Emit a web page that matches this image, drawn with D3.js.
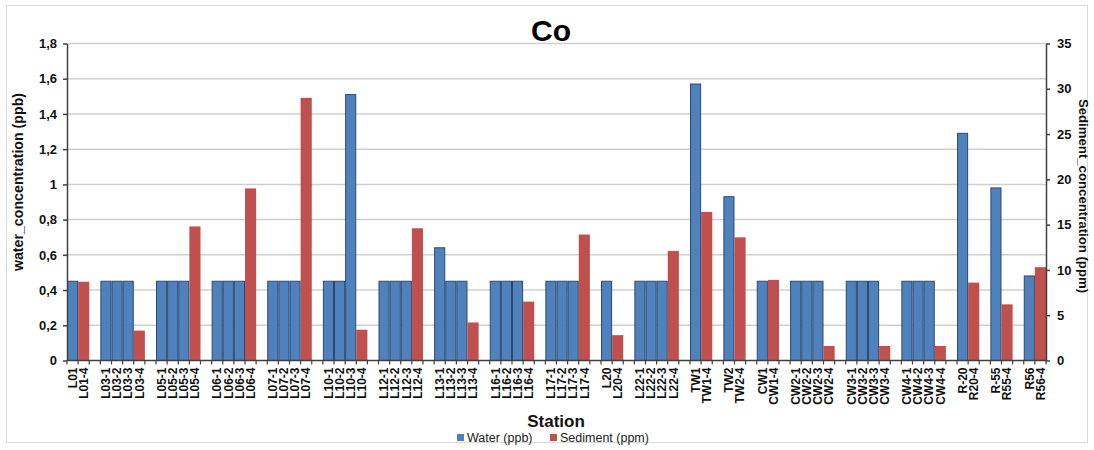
<!DOCTYPE html>
<html>
<head>
<meta charset="utf-8">
<script src="https://cdn.jsdelivr.net/npm/d3@7"></script>
<style>
  html, body { margin: 0; padding: 0; background: #fff; }
  svg { display: block; font-family: "Liberation Sans", Arial, sans-serif; }
</style>
</head>
<body>
<svg id="chart" width="1094" height="450"></svg>
<script>
// Stations along the x axis; "" marks an empty spacer slot between station groups
const stations = [
  "L01", "L01-4", "",
  "L03-1", "L03-2", "L03-3", "L03-4", "",
  "L05-1", "L05-2", "L05-3", "L05-4", "",
  "L06-1", "L06-2", "L06-3", "L06-4", "",
  "L07-1", "L07-2", "L07-3", "L07-4", "",
  "L10-1", "L10-2", "L10-3", "L10-4", "",
  "L12-1", "L12-2", "L12-3", "L12-4", "",
  "L13-1", "L13-2", "L13-3", "L13-4", "",
  "L16-1", "L16-2", "L16-3", "L16-4", "",
  "L17-1", "L17-2", "L17-3", "L17-4", "",
  "L20", "L20-4", "",
  "L22-1", "L22-2", "L22-3", "L22-4", "",
  "TW1", "TW1-4", "",
  "TW2", "TW2-4", "",
  "CW1", "CW1-4", "",
  "CW2-1", "CW2-2", "CW2-3", "CW2-4", "",
  "CW3-1", "CW3-2", "CW3-3", "CW3-4", "",
  "CW4-1", "CW4-2", "CW4-3", "CW4-4", "",
  "R-20", "R20-4", "",
  "R-55", "R55-4", "",
  "R56", "R56-4"
];

// Water concentration (ppb), one entry per slot in `stations`
const water = [
  0.45, null, null,
  0.45, 0.45, 0.45, null, null,
  0.45, 0.45, 0.45, null, null,
  0.45, 0.45, 0.45, null, null,
  0.45, 0.45, 0.45, null, null,
  0.45, 0.45, 1.51, null, null,
  0.45, 0.45, 0.45, null, null,
  0.64, 0.45, 0.45, null, null,
  0.45, 0.45, 0.45, null, null,
  0.45, 0.45, 0.45, null, null,
  0.45, null, null,
  0.45, 0.45, 0.45, null, null,
  1.57, null, null,
  0.93, null, null,
  0.45, null, null,
  0.45, 0.45, 0.45, null, null,
  0.45, 0.45, 0.45, null, null,
  0.45, 0.45, 0.45, null, null,
  1.29, null, null,
  0.98, null, null,
  0.48, null
];

// Sediment concentration (ppm), one entry per slot in `stations`
const sediment = [
  null, 8.7, null,
  null, null, null, 3.3, null,
  null, null, null, 14.8, null,
  null, null, null, 19.0, null,
  null, null, null, 29.0, null,
  null, null, null, 3.4, null,
  null, null, null, 14.6, null,
  null, null, null, 4.2, null,
  null, null, null, 6.5, null,
  null, null, null, 13.9, null,
  null, 2.8, null,
  null, null, null, 12.1, null,
  null, 16.4, null,
  null, 13.6, null,
  null, 8.9, null,
  null, null, null, 1.6, null,
  null, null, null, 1.6, null,
  null, null, null, 1.6, null,
  null, 8.6, null,
  null, 6.2, null,
  null, 10.3
];

const waterTicks = [0, 0.2, 0.4, 0.6, 0.8, 1, 1.2, 1.4, 1.6, 1.8];
const sedimentTicks = [0, 5, 10, 15, 20, 25, 30, 35];

const seriesNames = ["Water (ppb)", "Sediment (ppm)"];
const colors = { water: "#4f81bd", sediment: "#c0504d" };

const svg = d3.select("#chart");
const W = 1094, H = 450;
const margin = { left: 67, right: 48, top: 43.5, bottom: 89.5 };
const plotW = W - margin.left - margin.right;
const plotH = H - margin.top - margin.bottom;

// Outer frame
svg.append("rect")
  .attr("x", 6.5).attr("y", 5.5)
  .attr("width", W - 13).attr("height", H - 13)
  .attr("fill", "#fff")
  .attr("stroke", "#d9d9d9")
  .attr("stroke-width", 1);

const g = svg.append("g").attr("transform", `translate(${margin.left},${margin.top})`);

const idx = d3.range(stations.length);
const x = d3.scaleBand().domain(idx).range([0, plotW]).padding(0);
const yW = d3.scaleLinear().domain([0, 1.8]).range([plotH, 0]);
const yS = d3.scaleLinear().domain([0, 35]).range([plotH, 0]);

// Horizontal gridlines
g.append("g")
  .selectAll("line")
  .data(waterTicks.filter(d => d > 0))
  .join("line")
  .attr("x1", 0).attr("x2", plotW)
  .attr("y1", d => yW(d)).attr("y2", d => yW(d))
  .attr("stroke", "#cfcfcf")
  .attr("stroke-width", 1.5);

// Water bars
g.append("g")
  .selectAll("rect")
  .data(idx.filter(i => water[i] != null))
  .join("rect")
  .attr("x", i => x(i) + 0.5)
  .attr("width", x.bandwidth() - 1)
  .attr("y", i => yW(water[i]))
  .attr("height", i => yW(0) - yW(water[i]))
  .attr("fill", colors.water)
  .attr("stroke", "#2b4a70")
  .attr("stroke-width", 1);

// Sediment bars
g.append("g")
  .selectAll("rect")
  .data(idx.filter(i => sediment[i] != null))
  .join("rect")
  .attr("x", i => x(i))
  .attr("width", x.bandwidth())
  .attr("y", i => yS(sediment[i]))
  .attr("height", i => yS(0) - yS(sediment[i]))
  .attr("fill", colors.sediment);

const commaFmt = v => d3.format(".1~f")(v).replace(".", ",");

// Left axis (water)
const leftAxis = g.append("g")
  .call(d3.axisLeft(yW).tickValues(waterTicks).tickFormat(commaFmt).tickSizeInner(4).tickSizeOuter(0).tickPadding(6));

// Right axis (sediment)
const rightAxis = g.append("g")
  .attr("transform", `translate(${plotW},0)`)
  .call(d3.axisRight(yS).tickValues(sedimentTicks).tickSizeInner(4).tickSizeOuter(0).tickPadding(7));

[leftAxis, rightAxis].forEach(a => {
  a.select(".domain").attr("stroke", "#404040").attr("stroke-width", 1.5);
  a.selectAll(".tick line").attr("stroke", "#404040").attr("stroke-width", 1.5);
  a.selectAll(".tick text")
    .attr("font-family", "Liberation Sans, Arial, sans-serif")
    .attr("font-size", 13).attr("font-weight", "bold").attr("fill", "#111");
});

// Bottom axis line with ticks at slot boundaries
const bottom = g.append("g").attr("transform", `translate(0,${plotH})`);
bottom.append("line")
  .attr("x1", 0).attr("x2", plotW)
  .attr("stroke", "#404040").attr("stroke-width", 1.5);
bottom.selectAll("line.tk")
  .data(d3.range(stations.length + 1))
  .join("line")
  .attr("class", "tk")
  .attr("x1", i => i * x.step()).attr("x2", i => i * x.step())
  .attr("y1", 0).attr("y2", 4)
  .attr("stroke", "#404040").attr("stroke-width", 1.2);

// Station labels, rotated
bottom.selectAll("text")
  .data(idx.filter(i => stations[i] !== ""))
  .join("text")
  .attr("transform", i => `translate(${x(i) + x.bandwidth() / 2},7) rotate(-90)`)
  .attr("text-anchor", "end")
  .attr("dy", "0.35em")
  .attr("font-size", 12)
  .attr("font-weight", "bold")
  .attr("fill", "#111")
  .text(i => stations[i]);

// Title
svg.append("text")
  .attr("x", 551).attr("y", 41)
  .attr("text-anchor", "middle")
  .attr("font-size", 30).attr("font-weight", "bold")
  .attr("fill", "#000")
  .text("Co");

// Axis titles
svg.append("text")
  .attr("transform", "translate(22.5,182) rotate(-90)")
  .attr("text-anchor", "middle")
  .attr("font-size", 14.2).attr("font-weight", "bold").attr("fill", "#111")
  .text("water_concentration (ppb)");

svg.append("text")
  .attr("transform", "translate(1078.5,196) rotate(90)")
  .attr("text-anchor", "middle")
  .attr("font-size", 13.2).attr("font-weight", "bold").attr("fill", "#111")
  .text("Sediment_concentration (ppm)");

svg.append("text")
  .attr("x", 556).attr("y", 427)
  .attr("text-anchor", "middle")
  .attr("font-size", 17).attr("font-weight", "bold").attr("fill", "#111")
  .text("Station");

// Legend
const legendItems = [
  { name: seriesNames[0], color: colors.water, x: 457 },
  { name: seriesNames[1], color: colors.sediment, x: 550 }
];
const legend = svg.append("g");
legend.selectAll("rect")
  .data(legendItems)
  .join("rect")
  .attr("x", d => d.x).attr("y", 434)
  .attr("width", 7).attr("height", 7)
  .attr("fill", d => d.color);
legend.selectAll("text")
  .data(legendItems)
  .join("text")
  .attr("x", d => d.x + 10).attr("y", 442)
  .attr("font-size", 12.5).attr("fill", "#222")
  .text(d => d.name);
</script>
</body>
</html>
